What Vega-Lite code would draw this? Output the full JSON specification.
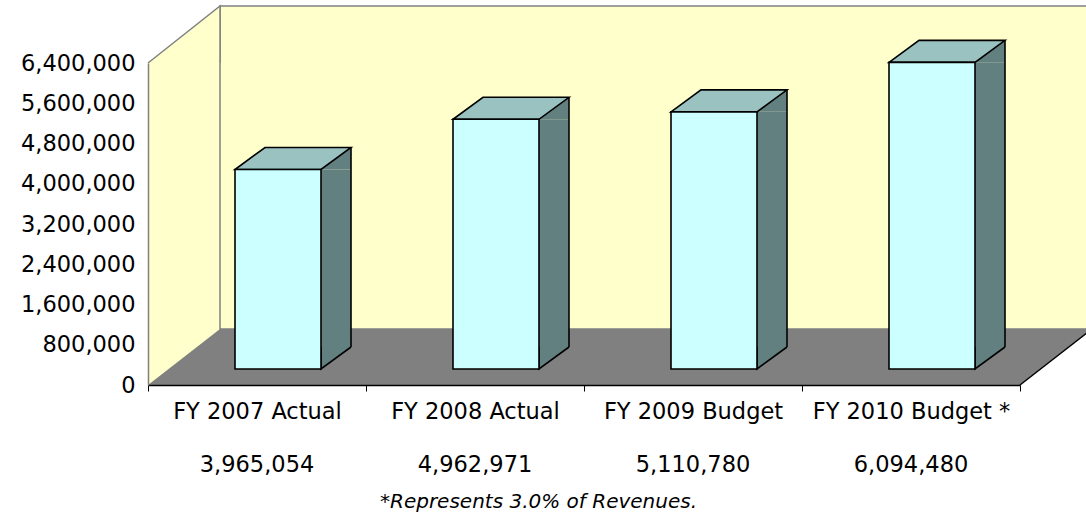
{
  "$schema": "https://vega.github.io/schema/vega-lite/v6.json",
  "width": 872,
  "height": 322,
  "autosize": {"type": "none"},
  "padding": {"left": 148, "top": 63, "right": 66, "bottom": 128},
  "background": "white",
  "config": {
    "view": {"fill": "#FFFFCC", "stroke": null},
    "font": "DejaVu Sans"
  },
  "data": {
    "values": [
      {"cat": "FY 2007 Actual", "value": 3965054},
      {"cat": "FY 2008 Actual", "value": 4962971},
      {"cat": "FY 2009 Budget", "value": 5110780},
      {"cat": "FY 2010 Budget *", "value": 6094480}
    ]
  },
  "resolve": {"axis": {"x": "independent", "y": "independent"}},
  "layer": [
    {
      "transform": [{"filter": "datum.cat === 'FY 2007 Actual'"}],
      "mark": {"type": "point", "shape": "M -37 -56 L -37 -379 L 900 -379 L 900 -56 Z", "size": 4, "filled": true, "fill": "#FFFFCC", "stroke": "#808080", "strokeWidth": 1.5, "opacity": 1},
      "encoding": {
        "x": {"datum": "FY 2007 Actual", "type": "nominal", "axis": null},
        "y": {"datum": 0, "type": "quantitative", "axis": null}
      }
    },
    {
      "transform": [{"filter": "datum.cat === 'FY 2007 Actual'"}],
      "mark": {"type": "point", "shape": "M -109 0 L -37 -57 L -37 0", "size": 4, "filled": true, "fill": "#FFFFCC", "stroke": "#808080", "strokeWidth": 1.5, "opacity": 1},
      "encoding": {
        "x": {"datum": "FY 2007 Actual", "type": "nominal", "axis": null},
        "y": {"datum": 6400000, "type": "quantitative", "axis": null}
      }
    },
    {
      "transform": [{"filter": "datum.cat === 'FY 2007 Actual'"}],
      "mark": {"type": "point", "shape": "M -109 0 L 763 0 L 835 -56 L -37 -56 Z", "size": 4, "filled": true, "fill": "#808080", "strokeWidth": 0, "opacity": 1},
      "encoding": {
        "x": {"datum": "FY 2007 Actual", "type": "nominal", "axis": null},
        "y": {"datum": 0, "type": "quantitative", "axis": null}
      }
    },
    {
      "transform": [{"filter": "datum.cat === 'FY 2007 Actual'"}],
      "mark": {"type": "point", "shape": "M 763 0 L 835 -56", "size": 4, "filled": false, "stroke": "#000000", "strokeWidth": 1.5, "opacity": 1},
      "encoding": {
        "x": {"datum": "FY 2007 Actual", "type": "nominal", "axis": null},
        "y": {"datum": 0, "type": "quantitative", "axis": null}
      }
    },
    {
      "encoding": {
        "x": {
          "field": "cat",
          "type": "nominal",
          "sort": null,
          "scale": {"type": "band", "paddingInner": 0, "paddingOuter": 0},
          "axis": {
            "orient": "bottom",
            "title": "*Represents 3.0% of Revenues.",
            "titleFont": "DejaVu Sans",
            "titleFontStyle": "italic",
            "titleFontWeight": "normal",
            "titleFontSize": 20,
            "titleColor": "#000000",
            "titleX": 390,
            "titleY": 122,
            "titleAlign": "center",
            "titleBaseline": "alphabetic",
            "labelAngle": 0,
            "labelFont": "DejaVu Sans",
            "labelFontSize": 22.5,
            "labelColor": "#000000",
            "labelBaseline": "alphabetic",
            "labelPadding": 27,
            "labelLimit": 400,
            "tickBand": "extent",
            "tickColor": "#000000",
            "tickSize": 6,
            "domainColor": "#000000",
            "domainWidth": 1.5,
            "grid": false,
            "zindex": 1
          }
        },
        "y": {
          "field": "value",
          "type": "quantitative",
          "title": null,
          "stack": null,
          "scale": {"domain": [0, 6400000], "nice": false},
          "axis": {
            "orient": "left",
            "title": null,
            "values": [0, 800000, 1600000, 2400000, 3200000, 4000000, 4800000, 5600000, 6400000],
            "format": ",d",
            "ticks": false,
            "grid": false,
            "domainColor": "#808080",
            "domainWidth": 1.5,
            "labelFont": "DejaVu Sans",
            "labelFontSize": 22.5,
            "labelColor": "#000000",
            "labelPadding": 13,
            "zindex": 1
          }
        }
      },
      "layer": [
        {
          "mark": {"type": "bar", "width": 30, "xOffset": 79, "yOffset": -16, "y2Offset": -38, "fill": "#638080", "strokeWidth": 0},
          "encoding": {"y2": {"datum": 0}}
        },
        {
          "mark": {"type": "point", "shape": "M 64 -16 L 94 -38 L 94 -16 Z", "size": 4, "filled": true, "fill": "#638080", "strokeWidth": 0, "opacity": 1}
        },
        {
          "mark": {"type": "point", "shape": "M 94 -38 L 64 -16 L 64 -38", "size": 4, "filled": true, "fill": "#638080", "stroke": "#000000", "strokeWidth": 1.6, "opacity": 1},
          "encoding": {"y": {"datum": 0, "type": "quantitative"}}
        },
        {
          "mark": {"type": "rule", "xOffset": 94, "yOffset": -38, "y2Offset": -38, "stroke": "#000000", "strokeWidth": 1.6},
          "encoding": {
            "x": {"field": "cat", "type": "nominal", "sort": null, "bandPosition": 0.5},
            "y2": {"datum": 0}
          }
        },
        {
          "mark": {"type": "point", "shape": "M -22 -16 L 64 -16 L 94 -38 L 8 -38 Z", "size": 4, "filled": true, "fill": "#99C2C0", "stroke": "#000000", "strokeWidth": 1.6, "opacity": 1}
        },
        {
          "mark": {"type": "bar", "width": 86, "xOffset": 21, "yOffset": -16, "y2Offset": -16, "fill": "#CCFFFF", "stroke": "#000000", "strokeWidth": 1.6},
          "encoding": {"y2": {"datum": 0}}
        },
        {
          "mark": {"type": "text", "dy": 87, "baseline": "alphabetic", "align": "center", "font": "DejaVu Sans", "fontSize": 22.5, "color": "#000000"},
          "encoding": {
            "y": {"datum": 0, "type": "quantitative"},
            "text": {"field": "value", "type": "quantitative", "format": ",d"}
          }
        }
      ]
    }
  ]
}
